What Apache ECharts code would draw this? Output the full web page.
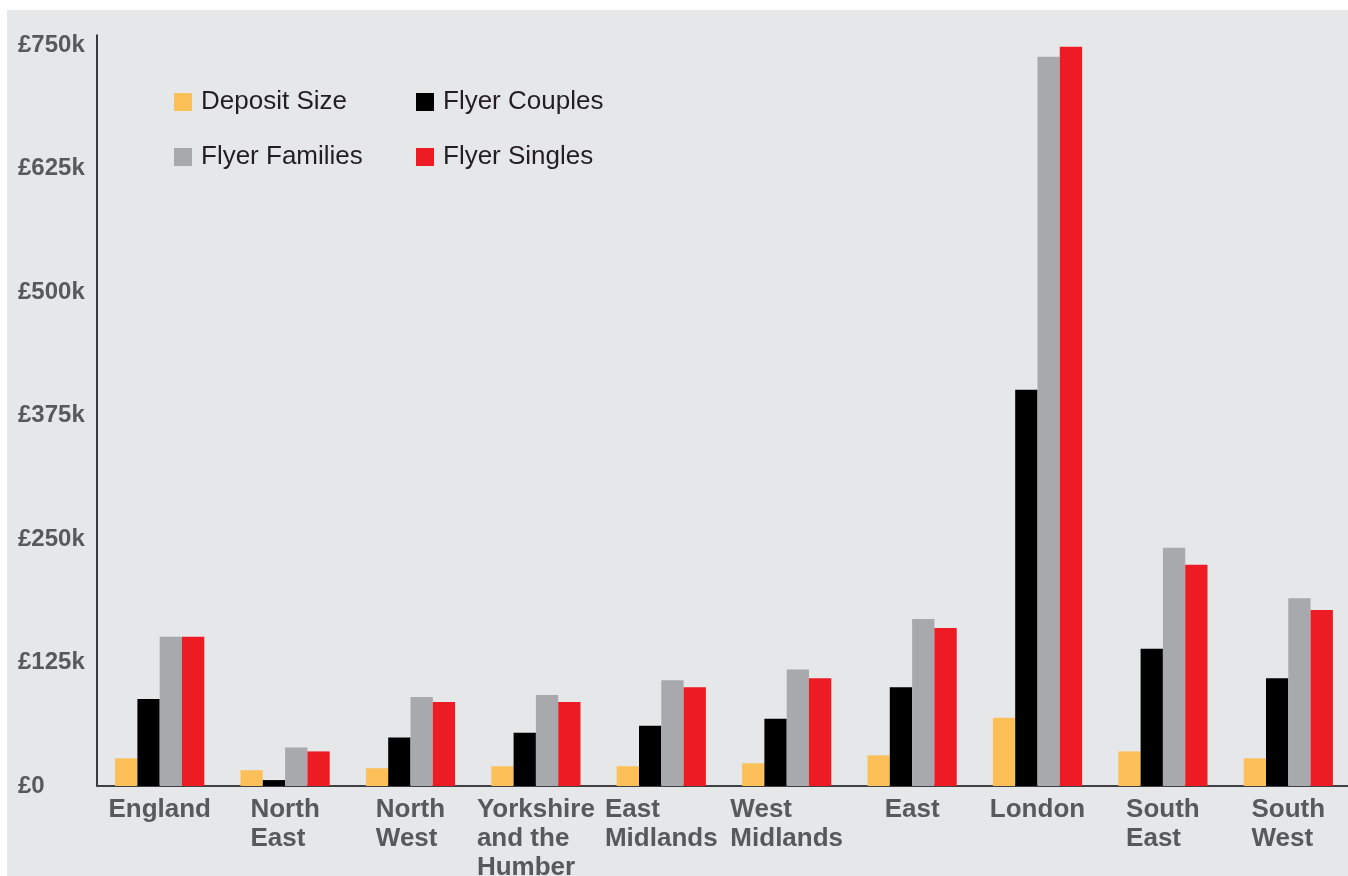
<!DOCTYPE html>
<html>
<head>
<meta charset="utf-8">
<title>Deposit size and flyer prices by region</title>
<script src="https://cdn.jsdelivr.net/npm/echarts@6/dist/echarts.min.js"></script>
<style>
  html, body { margin: 0; padding: 0; background: #ffffff; }
  #chart { width: 1348px; height: 876px; }
</style>
</head>
<body>
<div id="chart"></div>
<script>
// Regions (line breaks follow the printed labels)
const regions = [
  'England', 'North\nEast', 'North\nWest', 'Yorkshire\nand the\nHumber',
  'East\nMidlands', 'West\nMidlands', 'East', 'London', 'South\nEast', 'South\nWest'
];

// Values in £ thousands
const depositSize   = [28, 16, 18, 20, 20, 23, 31, 69, 35, 28];
const flyerCouples  = [88, 6, 49, 54, 61, 68, 100, 401, 139, 109];
const flyerFamilies = [151, 39, 90, 92, 107, 118, 169, 738, 241, 190];
const flyerSingles  = [151, 35, 85, 85, 100, 109, 160, 748, 224, 178];

const seriesNames = ['Deposit Size', 'Flyer Couples', 'Flyer Families', 'Flyer Singles'];
const seriesColors = ['#fdbf57', '#000000', '#a7a9ac', '#ed1c24'];
const seriesValues = [depositSize, flyerCouples, flyerFamilies, flyerSingles];

const FONT = '"Liberation Sans", Arial, Helvetica, sans-serif';
const LABEL_GREY = '#58595b';

const chart = echarts.init(document.getElementById('chart'), null, { renderer: 'canvas' });

// One legend block per series, laid out as a 2x2 key
const legendPos = [
  { left: 174, top: 89 },
  { left: 416, top: 89 },
  { left: 174, top: 144 },
  { left: 416, top: 144 }
];
const legends = seriesNames.map((name, i) => ({
  data: [name],
  left: legendPos[i].left,
  top: legendPos[i].top,
  padding: 0,
  icon: 'rect',
  itemWidth: 18,
  itemHeight: 18,
  selectedMode: false,
  textStyle: {
    fontFamily: FONT,
    fontSize: 26,
    lineHeight: 18,
    color: '#231f20',
    padding: [0, 0, 0, 4]
  }
}));

chart.setOption({
  animation: false,
  backgroundColor: '#ffffff',
  graphic: [{
    type: 'rect',
    z: -10,
    silent: true,
    shape: { x: 7, y: 10, width: 1348, height: 876 },
    style: { fill: '#e6e7e8' }
  }],
  legend: legends,
  grid: {
    left: 97, top: 35, width: 1254, height: 751,
    containLabel: false,
    outerBoundsMode: 'none'
  },
  xAxis: {
    type: 'category',
    data: regions,
    axisTick: { show: false },
    axisLine: { lineStyle: { color: '#414042', width: 2 } },
    axisLabel: {
      interval: 0,
      margin: 9,
      color: LABEL_GREY,
      fontFamily: FONT,
      fontWeight: 'bold',
      fontSize: 26,
      lineHeight: 29,
      align: 'center',
      formatter: v => v.split('\n').map(l => '{t|' + l + '}').join('\n'),
      rich: {
        t: {
          align: 'left',
          color: LABEL_GREY,
          fontFamily: FONT,
          fontWeight: 'bold',
          fontSize: 26,
          lineHeight: 29
        }
      }
    },
    splitLine: { show: false }
  },
  yAxis: {
    type: 'value',
    min: 0,
    max: 760,
    interval: 125,
    axisLine: { show: true, lineStyle: { color: '#000000', width: 1.5 } },
    axisTick: { show: false },
    splitLine: { show: false },
    axisLabel: {
      showMaxLabel: false,
      align: 'left',
      margin: 79,
      color: LABEL_GREY,
      fontFamily: FONT,
      fontWeight: 'bold',
      fontSize: 24,
      formatter: v => v === 0 ? '£0' : '£' + v + 'k'
    }
  },
  series: seriesNames.map((name, i) => ({
    name: name,
    type: 'bar',
    data: seriesValues[i],
    barWidth: 22.3,
    barGap: '0%',
    itemStyle: { color: seriesColors[i] }
  }))
});
</script>
</body>
</html>
